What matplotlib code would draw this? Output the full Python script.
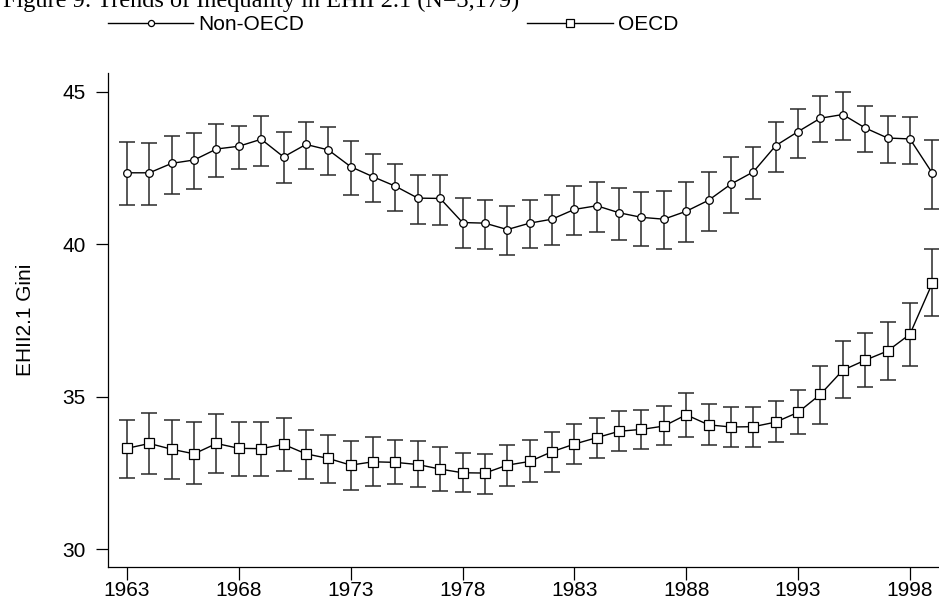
"""Trends of inequality in EHII 2.1, OECD vs non-OECD, with error bars."""

import matplotlib
matplotlib.use("Agg")
import matplotlib.pyplot as plt
import numpy as np

YEARS = list(range(1963, 2000))

NON_OECD_MEAN = [
    42.34, 42.34, 42.65, 42.76, 43.12, 43.21, 43.44, 42.86, 43.27, 43.09,
    42.54, 42.21, 41.90, 41.51, 41.50, 40.71, 40.69, 40.48, 40.69, 40.82,
    41.14, 41.26, 41.03, 40.88, 40.82, 41.08, 41.44, 41.97, 42.37, 43.23,
    43.69, 44.13, 44.25, 43.81, 43.48, 43.45, 42.33,
]
NON_OECD_UPPER = [
    43.34, 43.32, 43.56, 43.63, 43.93, 43.88, 44.21, 43.69, 44.00, 43.84,
    43.39, 42.96, 42.64, 42.28, 42.26, 41.50, 41.44, 41.26, 41.44, 41.61,
    41.91, 42.03, 41.83, 41.72, 41.75, 42.05, 42.37, 42.86, 43.18, 44.02,
    44.44, 44.87, 45.00, 44.53, 44.20, 44.17, 43.42,
]
NON_OECD_LOWER = [
    41.30, 41.30, 41.66, 41.81, 42.21, 42.45, 42.56, 41.99, 42.45, 42.27,
    41.61, 41.37, 41.08, 40.67, 40.63, 39.88, 39.83, 39.66, 39.86, 39.96,
    40.31, 40.40, 40.15, 39.94, 39.83, 40.06, 40.43, 41.03, 41.49, 42.37,
    42.82, 43.34, 43.42, 43.01, 42.66, 42.62, 41.15,
]

OECD_MEAN = [
    33.31, 33.47, 33.28, 33.13, 33.47, 33.31, 33.30, 33.44, 33.13, 32.98,
    32.76, 32.87, 32.85, 32.78, 32.63, 32.51, 32.50, 32.76, 32.88, 33.20,
    33.45, 33.66, 33.87, 33.93, 34.04, 34.41, 34.08, 34.01, 34.02, 34.17,
    34.49, 35.08, 35.87, 36.20, 36.50, 37.05, 38.72,
]
OECD_UPPER = [
    34.25, 34.46, 34.23, 34.16, 34.42, 34.18, 34.18, 34.32, 33.92, 33.75,
    33.54, 33.67, 33.59, 33.54, 33.34, 33.16, 33.13, 33.41, 33.57, 33.83,
    34.10, 34.31, 34.52, 34.57, 34.70, 35.11, 34.77, 34.67, 34.67, 34.85,
    35.21, 36.02, 36.82, 37.10, 37.46, 38.08, 39.83,
]
OECD_LOWER = [
    32.34, 32.48, 32.30, 32.15, 32.51, 32.42, 32.40, 32.56, 32.30, 32.19,
    31.96, 32.08, 32.14, 32.03, 31.90, 31.87, 31.81, 32.08, 32.21, 32.54,
    32.80, 32.98, 33.22, 33.29, 33.41, 33.69, 33.42, 33.37, 33.35, 33.51,
    33.77, 34.10, 34.95, 35.31, 35.56, 36.00, 37.64,
]

X_TICKS = list(range(1963, 1999, 5))
Y_TICKS = [30, 35, 40, 45]

TITLE = "Figure 9: Trends of Inequality in EHII 2.1 (N=3,179)"
Y_LABEL = "EHII2.1 Gini"

FONT_SIZE = 15
BAR_COLOR = "#2a2a2a"


def draw_series(ax, mean, lower, upper, marker, msize, label):
    mean = np.array(mean)
    yerr = [mean - np.array(lower), np.array(upper) - mean]
    ax.errorbar(YEARS, mean, yerr=yerr, fmt="none", ecolor=BAR_COLOR,
                elinewidth=1.1, capsize=6, capthick=1.1, zorder=2)
    line, = ax.plot(YEARS, mean, color="black", linewidth=1.0,
                    marker=marker, markersize=msize, markerfacecolor="white",
                    markeredgecolor="black", markeredgewidth=0.9,
                    label=label, zorder=3)
    return line


def main():
    plt.rcParams["font.family"] = ["Liberation Sans", "DejaVu Sans"]

    fig = plt.figure(figsize=(9.39, 6.01), dpi=100)
    ax = fig.add_axes([0.115, 0.057, 0.885, 0.821])

    h1 = draw_series(ax, NON_OECD_MEAN, NON_OECD_LOWER, NON_OECD_UPPER,
                     "o", 5.5, "Non-OECD")
    h2 = draw_series(ax, OECD_MEAN, OECD_LOWER, OECD_UPPER,
                     "s", 6.5, "OECD")

    ax.set_xlim(1962.15, 1999.3)
    ax.set_ylim(29.43, 45.6)
    ax.set_xticks(X_TICKS)
    ax.set_yticks(Y_TICKS)
    ax.tick_params(axis="both", labelsize=FONT_SIZE, length=9, width=0.9,
                   direction="out")
    ax.tick_params(axis="y", pad=7)
    ax.tick_params(axis="x", pad=1.5)
    ax.set_ylabel(Y_LABEL, fontsize=FONT_SIZE, labelpad=20)

    for side in ("top", "right"):
        ax.spines[side].set_visible(False)
    for side in ("left", "bottom"):
        ax.spines[side].set_linewidth(0.9)

    fig.legend([h1, h2], ["Non-OECD", "OECD"], loc="center left",
               bbox_to_anchor=(108 / 939, 1 - 25 / 601), ncol=2,
               frameon=False, fontsize=FONT_SIZE, handlelength=4.1,
               handletextpad=0.25, columnspacing=10.7, borderpad=0,
               borderaxespad=0, markerscale=0.8)

    fig.text(0.003, 1 - 7 / 601, TITLE, family="Liberation Serif",
             fontsize=17.5, va="baseline", ha="left")

    fig.savefig("out.png", dpi=100)


if __name__ == "__main__":
    main()
